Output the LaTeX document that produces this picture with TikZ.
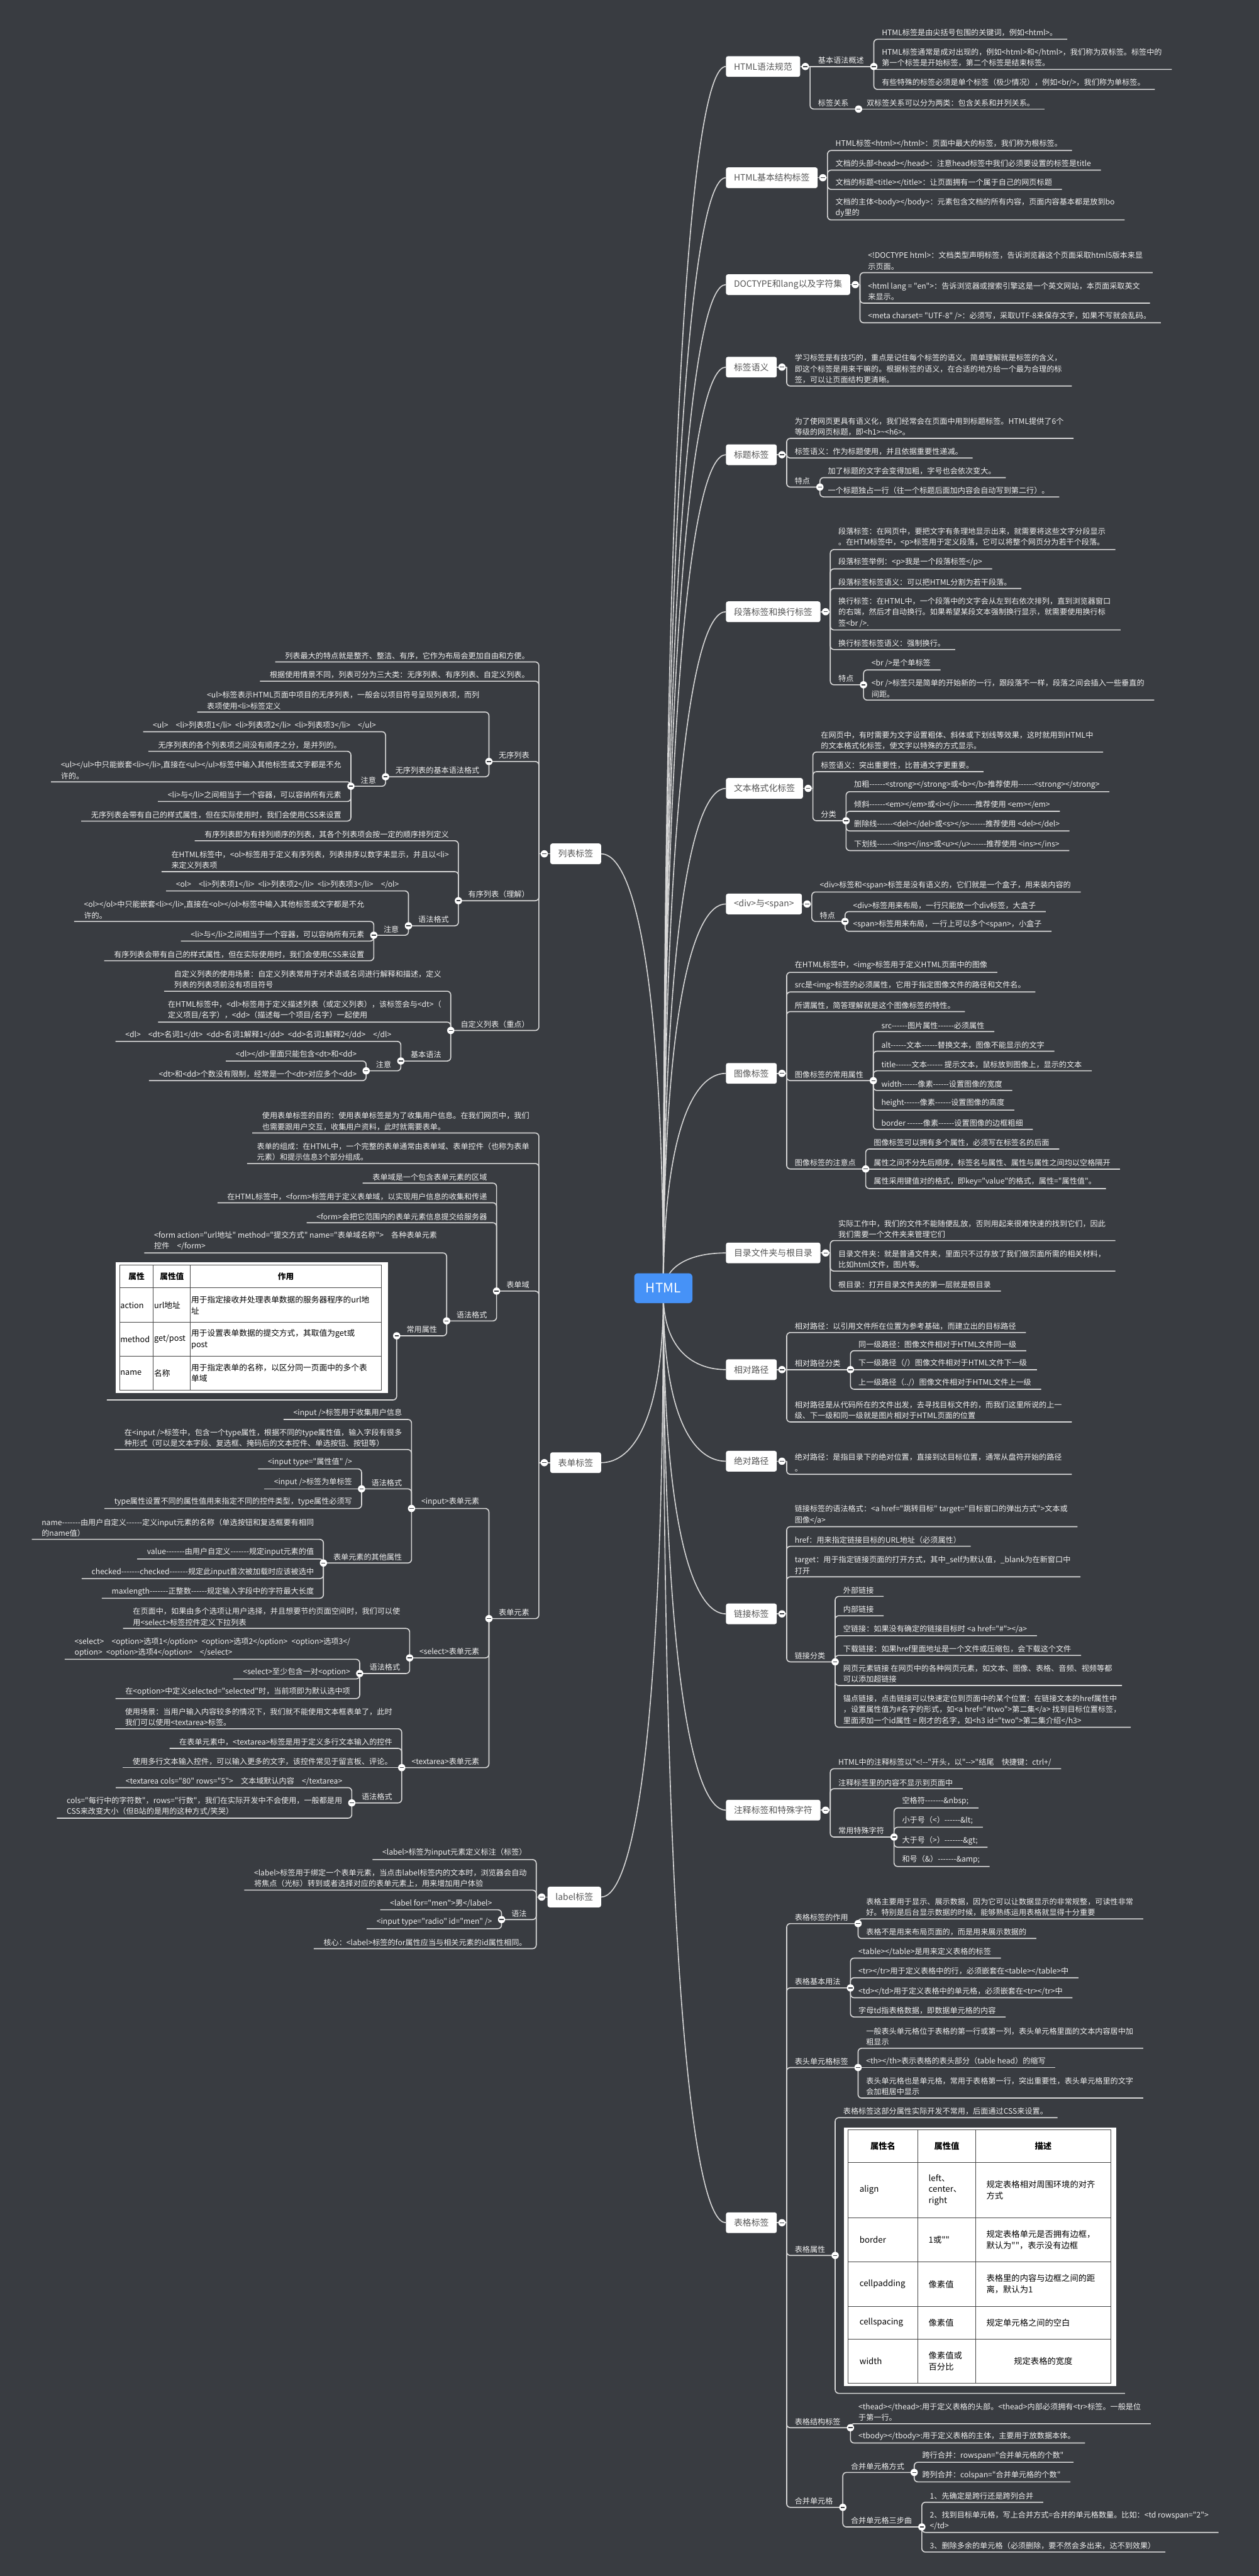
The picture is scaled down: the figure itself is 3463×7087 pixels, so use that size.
\documentclass[tikz,border=0pt]{standalone}
\usepackage{fontspec}
\setmainfont{Noto Sans CJK SC}[Ligatures=TeXOff]
\usetikzlibrary{calc}
\usetikzlibrary{positioning}

\definecolor{bgcol}{RGB}{57,60,65}
\definecolor{linecol}{RGB}{215,215,215}
\definecolor{leafcol}{RGB}{240,240,240}
\definecolor{topiccol}{RGB}{85,85,85}
\definecolor{rootcol}{RGB}{70,146,247}
\definecolor{gridcol}{RGB}{70,70,70}

\newcommand{\leaffont}{\fontsize{21}{30}\selectfont}
\newcommand{\topicfont}{\fontsize{24}{30}\selectfont}
\newcommand{\rootfont}{\fontsize{36}{40}\selectfont}
\newcommand{\ftabfont}{\fontsize{22}{30.5}\selectfont}
\newcommand{\ptabfont}{\fontsize{23}{31}\selectfont}

% main branches, right and left of the root
\newcommand{\rtopic}[3]{%
  \node[topic, anchor=west] (#1) at (1997,#2) {#3};
  \coordinate (#1o) at ([xshift=14pt]#1.east);
  \coordinate (#1h) at ([xshift=27pt]#1.east);
  \draw[link] (#1.east) -- (#1h);
  \draw[rootlink] (root) .. controls ($(root)!0.75!(root |- #1.west)$) and ($(#1.west)!0.5!(root |- #1.west)$) .. (#1.west);}
\newcommand{\ltopic}[3]{%
  \node[topic, anchor=east] (#1) at (1654,#2) {#3};
  \coordinate (#1o) at ([xshift=-16pt]#1.west);
  \coordinate (#1h) at ([xshift=-31pt]#1.west);
  \draw[link] (#1.west) -- (#1h);
  \draw[rootlink] (root) .. controls ($(root)!0.75!(root |- #1.east)$) and ($(#1.east)!0.5!(root |- #1.east)$) .. (#1.east);}
% underlined sub-items
\newcommand{\rkid}[4]{%
  \node[leaf, anchor=south west] (#2) at ($(#1 |- 0,#3)+(22,0)$) {#4};
  \draw[link] (#1) |- ([xshift=27pt]#2.south east);
  \coordinate (#2h) at ([xshift=27pt]#2.south east);}
\newcommand{\lkid}[4]{%
  \node[leaf, anchor=south east] (#2) at ($(#1 |- 0,#3)+(-26,0)$) {#4};
  \draw[link] (#1) |- ([xshift=-27pt]#2.south west);
  \coordinate (#2h) at ([xshift=-27pt]#2.south west);}
\newcommand{\rnext}[3]{%
  \node[leaf, anchor=south west] (#2) at ([xshift=22pt]#1) {#3};
  \draw[link] (#1) -- ([xshift=27pt]#2.south east);
  \coordinate (#2h) at ([xshift=27pt]#2.south east);}
\newcommand{\lnext}[3]{%
  \node[leaf, anchor=south east] (#2) at ([xshift=-26pt]#1) {#3};
  \draw[link] (#1) -- ([xshift=-27pt]#2.south west);
  \coordinate (#2h) at ([xshift=-27pt]#2.south west);}

\begin{document}
\begin{tikzpicture}[x=1pt, y=-1pt]
	\tikzstyle{leaf}=[text=leafcol, font=\leaffont, align=left, inner xsep=0pt, inner ysep=7pt]
	\tikzstyle{topic}=[fill=white, text=topiccol, font=\topicfont, rounded corners=6pt,
	                   inner xsep=22pt, minimum height=57pt]
	\tikzstyle{link}=[draw=linecol, line width=2.8pt, rounded corners=10pt]
	\tikzstyle{rootlink}=[draw=linecol, line width=2.8pt]
	\tikzstyle{rootnode}=[fill=rootcol, text=white, font=\rootfont, rounded corners=10pt,
	                      minimum width=160pt, minimum height=82pt]
	\tikzstyle{tabbox}=[fill=white, inner sep=0pt]
	\tikzstyle{tabline}=[draw=gridcol, line width=1.6pt]
	\tikzstyle{fcell}=[text=black, font=\ftabfont, align=left, inner sep=0pt]
	\tikzstyle{pcell}=[text=black, font=\ptabfont, align=left, inner sep=0pt]

	\useasboundingbox (0,0) rectangle (3463,7087);
	\fill[bgcol] (0,0) rectangle (3463,7087);
	\coordinate (root) at (1825,3560);

	% ---------- right side ----------
	\rtopic{r1}{183}{HTML语法规范}
	\rnext{r1h}{r1a}{基本语法概述}
	\rkid{r1ah}{r1a1}{108}{HTML标签是由尖括号包围的关键词，例如<html>。}
	\rkid{r1ah}{r1a2}{191}{HTML标签通常是成对出现的，例如<html>和</html>，我们称为双标签。标签中的\\第一个标签是开始标签，第二个标签是结束标签。}
	\rkid{r1ah}{r1a3}{246}{有些特殊的标签必须是单个标签（极少情况），例如<br/>，我们称为单标签。}
	\rkid{r1h}{r1b}{300}{标签关系}
	\rnext{r1bh}{r1b1}{双标签关系可以分为两类：包含关系和并列关系。}

	\rtopic{r2}{489}{HTML基本结构标签}
	\rkid{r2h}{r2a}{414}{HTML标签<html></html>：页面中最大的标签，我们称为根标签。}
	\rkid{r2h}{r2b}{468}{文档的头部<head></head>：注意head标签中我们必须要设置的标签是title}
	\rkid{r2h}{r2c}{521}{文档的标题<title></title>：让页面拥有一个属于自己的网页标题}
	\rkid{r2h}{r2d}{605}{文档的主体<body></body>：元素包含文档的所有内容，页面内容基本都是放到bo\\dy里的}

	\rtopic{r3}{783}{DOCTYPE和lang以及字符集}
	\rkid{r3h}{r3a}{750}{<!DOCTYPE html>：文档类型声明标签，告诉浏览器这个页面采取html5版本来显\\示页面。}
	\rkid{r3h}{r3b}{834}{<html lang = "en">：告诉浏览器或搜索引擎这是一个英文网站，本页面采取英文\\来显示。}
	\rkid{r3h}{r3c}{888}{<meta charset= "UTF-8" />：必须写，采取UTF-8来保存文字，如果不写就会乱码。}

	\rtopic{r4}{1010}{标签语义}
	\rkid{r4h}{r4a}{1062}{学习标签是有技巧的，重点是记住每个标签的语义。简单理解就是标签的含义，\\即这个标签是用来干嘛的。根据标签的语义，在合适的地方给一个最为合理的标\\签，可以让页面结构更清晰。}

	\rtopic{r5}{1251}{标题标签}
	\rkid{r5h}{r5a}{1206}{为了使网页更具有语义化，我们经常会在页面中用到标题标签。HTML提供了6个\\等级的网页标题，即<h1>\textasciitilde<h6>。}
	\rkid{r5h}{r5b}{1260}{标签语义：作为标题使用，并且依据重要性递减。}
	\rkid{r5h}{r5c}{1340}{特点}
	\rkid{r5ch}{r5c1}{1314}{加了标题的文字会变得加粗，字号也会依次变大。}
	\rkid{r5ch}{r5c2}{1367}{一个标题独占一行（往一个标题后面加内容会自动写到第二行）。}

	\rtopic{r6}{1683}{段落标签和换行标签}
	\rkid{r6h}{r6a}{1512}{段落标签：在网页中，要把文字有条理地显示出来，就需要将这些文字分段显示\\。在HTM标签中，<p>标签用于定义段落，它可以将整个网页分为若干个段落。}
	\rkid{r6h}{r6b}{1565}{段落标签举例：<p>我是一个段落标签</p>}
	\rkid{r6h}{r6c}{1619}{段落标签标签语义：可以把HTML分割为若干段落。}
	\rkid{r6h}{r6d}{1733}{换行标签：在HTML中，一个段落中的文字会从左到右依次排列，直到浏览器窗口\\的右端，然后才自动换行。如果希望某段文本强制换行显示，就需要使用换行标\\签<br />.}
	\rkid{r6h}{r6e}{1787}{换行标签标签语义：强制换行。}
	\rkid{r6h}{r6f}{1884}{特点}
	\rkid{r6fh}{r6f1}{1843}{<br />是个单标签}
	\rkid{r6fh}{r6f2}{1926}{<br />标签只是简单的开始新的一行，跟段落不一样，段落之间会插入一些垂直的\\间距。}

	\rtopic{r7}{2169}{文本格式化标签}
	\rkid{r7h}{r7a}{2069}{在网页中，有时需要为文字设置粗体、斜体或下划线等效果，这时就用到HTML中\\的文本格式化标签，使文字以特殊的方式显示。}
	\rkid{r7h}{r7b}{2123}{标签语义：突出重要性，比普通文字更重要。}
	\rkid{r7h}{r7c}{2258}{分类}
	\rkid{r7ch}{r7c1}{2178}{加粗------<strong></strong>或<b></b>推荐使用------<strong></strong>}
	\rkid{r7ch}{r7c2}{2232}{倾斜------<em></em>或<i></i>------推荐使用 <em></em>}
	\rkid{r7ch}{r7c3}{2286}{删除线------<del></del>或<s></s>------推荐使用 <del></del>}
	\rkid{r7ch}{r7c4}{2340}{下划线------<ins></ins>或<u></u>------推荐使用 <ins></ins>}

	\rtopic{r8}{2487}{<div>与<span>}
	\rkid{r8h}{r8a}{2454}{<div>标签和<span>标签是没有语义的，它们就是一个盒子，用来装内容的}
	\rkid{r8h}{r8b}{2535}{特点}
	\rkid{r8bh}{r8b1}{2508}{<div>标签用来布局，一行只能放一个div标签，大盒子}
	\rkid{r8bh}{r8b2}{2562}{<span>标签用来布局，一行上可以多个<span>，小盒子}

	\rtopic{r9}{2953}{图像标签}
	\rkid{r9h}{r9a}{2675}{在HTML标签中，<img>标签用于定义HTML页面中的图像}
	\rkid{r9h}{r9b}{2729}{src是<img>标签的必须属性，它用于指定图像文件的路径和文件名。}
	\rkid{r9h}{r9c}{2783}{所谓属性，简答理解就是这个图像标签的特性。}
	\rkid{r9h}{r9d}{2973}{图像标签的常用属性}
	\rkid{r9dh}{r9d1}{2838}{src------图片属性------必须属性}
	\rkid{r9dh}{r9d2}{2892}{alt------文本------替换文本，图像不能显示的文字}
	\rkid{r9dh}{r9d3}{2946}{title------文本------ 提示文本，鼠标放到图像上，显示的文本}
	\rkid{r9dh}{r9d4}{3000}{width------像素------设置图像的宽度}
	\rkid{r9dh}{r9d5}{3054}{height------像素------设置图像的高度}
	\rkid{r9dh}{r9d6}{3107}{border ------像素------设置图像的边框粗细}
	\rkid{r9h}{r9e}{3216}{图像标签的注意点}
	\rkid{r9eh}{r9e1}{3161}{图像标签可以拥有多个属性，必须写在标签名的后面}
	\rnext{r9eh}{r9e2}{属性之间不分先后顺序，标签名与属性、属性与属性之间均以空格隔开}
	\rkid{r9eh}{r9e3}{3270}{属性采用键值对的格式，即key="value"的格式，属性="属性值"。}

	\rtopic{r10}{3447}{目录文件夹与根目录}
	\rkid{r10h}{r10a}{3413}{实际工作中，我们的文件不能随便乱放，否则用起来很难快速的找到它们，因此\\我们需要一个文件夹来管理它们}
	\rkid{r10h}{r10b}{3497}{目录文件夹：就是普通文件夹，里面只不过存放了我们做页面所需的相关材料，\\比如html文件，图片等。}
	\rkid{r10h}{r10c}{3552}{根目录：打开目录文件夹的第一层就是根目录}

	\rtopic{r11}{3768}{相对路径}
	\rkid{r11h}{r11a}{3666}{相对路径：以引用文件所在位置为参考基础，而建立出的目标路径}
	\rnext{r11h}{r11b}{相对路径分类}
	\rkid{r11bh}{r11b1}{3716}{同一级路径：图像文件相对于HTML文件同一级}
	\rnext{r11bh}{r11b2}{下一级路径（/）图像文件相对于HTML文件下一级}
	\rkid{r11bh}{r11b3}{3822}{上一级路径（../）图像文件相对于HTML文件上一级}
	\rkid{r11h}{r11c}{3912}{相对路径是从代码所在的文件出发，去寻找目标文件的，而我们这里所说的上一\\级、下一级和同一级就是图片相对于HTML页面的位置}

	\rtopic{r12}{4020}{绝对路径}
	\rkid{r12h}{r12a}{4056}{绝对路径：是指目录下的绝对位置，直接到达目标位置，通常从盘符开始的路径\\。}

	\rtopic{r13}{4440}{链接标签}
	\rkid{r13h}{r13a}{4200}{链接标签的语法格式：<a href="跳转目标" target="目标窗口的弹出方式">文本或\\图像</a>}
	\rkid{r13h}{r13b}{4254}{href：用来指定链接目标的URL地址（必须属性）}
	\rkid{r13h}{r13c}{4338}{target：用于指定链接页面的打开方式，其中\_self为默认值，\_blank为在新窗口中\\打开}
	\rkid{r13h}{r13d}{4572}{链接分类}
	\rkid{r13dh}{r13d1}{4392}{外部链接}
	\rkid{r13dh}{r13d2}{4445}{内部链接}
	\rkid{r13dh}{r13d3}{4500}{空链接：如果没有确定的链接目标时 <a href="\#"></a>}
	\rkid{r13dh}{r13d4}{4554}{下载链接：如果href里面地址是一个文件或压缩包，会下载这个文件}
	\rkid{r13dh}{r13d5}{4637}{网页元素链接 在网页中的各种网页元素，如文本、图像、表格、音频、视频等都\\可以添加超链接}
	\rkid{r13dh}{r13d6}{4752}{锚点链接，点击链接可以快速定位到页面中的某个位置：在链接文本的href属性中\\，设置属性值为\#名字的形式，如<a href="\#two">第二集</a> 找到目标位置标签，\\里面添加一个id属性 = 刚才的名字，如<h3 id="two">第二集介绍</h3>}

	\rtopic{r14}{4980}{注释标签和特殊字符}
	\rkid{r14h}{r14a}{4866}{HTML中的注释标签以"<!--"开头，以"-->"结尾\quad 快捷键：ctrl+/}
	\rkid{r14h}{r14b}{4921}{注释标签里的内容不显示到页面中}
	\rkid{r14h}{r14c}{5054}{常用特殊字符}
	\rkid{r14ch}{r14c1}{4974}{空格符-------\&nbsp;}
	\rkid{r14ch}{r14c2}{5027}{小于号（<）------\&lt;}
	\rkid{r14ch}{r14c3}{5082}{大于号（>）-------\&gt;}
	\rkid{r14ch}{r14c4}{5135}{和号（\&）-------\&amp;}

	\rtopic{r15}{6115}{表格标签}
	\rkid{r15h}{r15a}{5292}{表格标签的作用}
	\rkid{r15ah}{r15a1}{5279}{表格主要用于显示、展示数据，因为它可以让数据显示的非常规整，可读性非常\\好。特别是后台显示数据的时候，能够熟练运用表格就显得十分重要}
	\rkid{r15ah}{r15a2}{5333}{表格不是用来布局页面的，而是用来展示数据的}
	\rkid{r15h}{r15b}{5469}{表格基本用法}
	\rkid{r15bh}{r15b1}{5387}{<table></table>是用来定义表格的标签}
	\rkid{r15bh}{r15b2}{5441}{<tr></tr>用于定义表格中的行，必须嵌套在<table></table>中}
	\rkid{r15bh}{r15b3}{5496}{<td></td>用于定义表格中的单元格，必须嵌套在<tr></tr>中}
	\rkid{r15bh}{r15b4}{5549}{字母td指表格数据，即数据单元格的内容}
	\rkid{r15h}{r15c}{5688}{表头单元格标签}
	\rkid{r15ch}{r15c1}{5635}{一般表头单元格位于表格的第一行或第一列，表头单元格里面的文本内容居中加\\粗显示}
	\rnext{r15ch}{r15c2}{<th></th>表示表格的表头部分（table head）的缩写}
	\rkid{r15ch}{r15c3}{5772}{表头单元格也是单元格，常用于表格第一行，突出重要性，表头单元格里的文字\\会加粗居中显示}
	\rkid{r15h}{r15d}{6205}{表格属性}
	\rkid{r15dh}{r15d1}{5826}{表格标签这部分属性实际开发不常用，后面通过CSS来设置。}
	\node[tabbox, minimum width=749pt, minimum height=712pt, anchor=north west] (ptab) at ($(r15dh |- 0,5853)+(24,0)$) {};
	\draw[link] (r15dh) |- ([xshift=24pt,yshift=-19pt]ptab.south east);
	\begin{scope}[shift={(ptab.north west)}]
		\draw[tabline] (12,6) rectangle (734,704);
		\foreach \gx in {203,363} {\draw[tabline] (\gx,6) -- (\gx,704);}
		\foreach \gy in {96,248,370,492,582} {\draw[tabline] (12,\gy) -- (734,\gy);}
		\node[pcell, font=\ptabfont\bfseries] (ph1) at (107.5,51) {属性名};
		\node[pcell, font=\ptabfont\bfseries] (ph2) at (283,51) {属性值};
		\node[pcell, font=\ptabfont\bfseries] (ph3) at (548.5,51) {描述};
		\node[pcell, anchor=west] (pa1) at (43,172) {align};
		\node[pcell, anchor=west] (pa2) at (233,172) {left、\\center、\\right};
		\node[pcell, anchor=west] (pa3) at (392,172) {规定表格相对周围环境的对齐\\方式};
		\node[pcell, anchor=west] (pb1) at (43,309) {border};
		\node[pcell, anchor=west] (pb2) at (233,309) {1或""};
		\node[pcell, anchor=west] (pb3) at (392,309) {规定表格单元是否拥有边框，\\默认为""，表示没有边框};
		\node[pcell, anchor=west] (pc1) at (43,431) {cellpadding};
		\node[pcell, anchor=west] (pc2) at (233,431) {像素值};
		\node[pcell, anchor=west] (pc3) at (392,431) {表格里的内容与边框之间的距\\离，默认为1};
		\node[pcell, anchor=west] (pd1) at (43,537) {cellspacing};
		\node[pcell, anchor=west] (pd2) at (233,537) {像素值};
		\node[pcell, anchor=west] (pd3) at (392,537) {规定单元格之间的空白};
		\node[pcell, anchor=west] (pe1) at (43,643) {width};
		\node[pcell, anchor=west] (pe2) at (233,643) {像素值或\\百分比};
		\node[pcell] (pe3) at (548.5,643) {规定表格的宽度};
	\end{scope}
	\rkid{r15h}{r15e}{6679}{表格结构标签}
	\rkid{r15eh}{r15e1}{6668}{<thead></thead>:用于定义表格的头部。<thead>内部必须拥有<tr>标签。一般是位\\于第一行。}
	\rkid{r15eh}{r15e2}{6721}{<tbody></tbody>:用于定义表格的主体，主要用于放数据本体。}
	\rkid{r15h}{r15f}{6898}{合并单元格}
	\rkid{r15fh}{r15f1}{6802}{合并单元格方式}
	\rkid{r15f1h}{r15f1a}{6774}{跨行合并：rowspan="合并单元格的个数"}
	\rkid{r15f1h}{r15f1b}{6828}{跨列合并：colspan="合并单元格的个数"}
	\rkid{r15fh}{r15f2}{6952}{合并单元格三步曲}
	\rkid{r15f2h}{r15f2a}{6884}{1、先确定是跨行还是跨列合并}
	\rkid{r15f2h}{r15f2b}{6967}{2、找到目标单元格，写上合并方式=合并的单元格数量。比如：<td rowspan="2">\\</td>}
	\rkid{r15f2h}{r15f2c}{7021}{3、删除多余的单元格（必须删除，要不然会多出来，达不到效果）}

	% ---------- left side ----------
	\ltopic{l1}{2349}{列表标签}
	\lkid{l1h}{l1a}{1821}{列表最大的特点就是整齐、整洁、有序，它作为布局会更加自由和方便。}
	\lkid{l1h}{l1b}{1874}{根据使用情景不同，列表可分为三大类：无序列表、有序列表、自定义列表。}
	\lkid{l1h}{l1c}{2095}{无序列表}
	\lkid{l1ch}{l1c1}{1959}{<ul>标签表示HTML页面中项目的无序列表，一般会以项目符号呈现列表项，而列\\表项使用<li>标签定义}
	\lkid{l1ch}{l1c2}{2137}{无序列表的基本语法格式}
	\lkid{l1c2h}{l1c2a}{2013}{<ul>\quad <li>列表项1</li>\enspace <li>列表项2</li>\enspace <li>列表项3</li>\quad </ul>}
	\lkid{l1c2h}{l1c2b}{2163}{注意}
	\lkid{l1c2bh}{l1c2b1}{2067}{无序列表的各个列表项之间没有顺序之分，是并列的。}
	\lkid{l1c2bh}{l1c2b2}{2151}{<ul></ul>中只能嵌套<li></li>,直接在<ul></ul>标签中输入其他标签或文字都是不允\\许的。}
	\lkid{l1c2bh}{l1c2b3}{2205}{<li>与</li>之间相当于一个容器，可以容纳所有元素}
	\lkid{l1c2bh}{l1c2b4}{2259}{无序列表会带有自己的样式属性，但在实际使用时，我们会使用CSS来设置}
	\lkid{l1h}{l1d}{2478}{有序列表（理解）}
	\lkid{l1dh}{l1d1}{2313}{有序列表即为有排列顺序的列表，其各个列表项会按一定的顺序排列定义}
	\lkid{l1dh}{l1d2}{2398}{在HTML标签中，<ol>标签用于定义有序列表，列表排序以数字来显示，并且以<li>\\来定义列表项}
	\lkid{l1dh}{l1d3}{2547}{语法格式}
	\lkid{l1d3h}{l1d3a}{2451}{<ol>\quad <li>列表项1</li>\enspace <li>列表项2</li>\enspace <li>列表项3</li>\quad </ol>}
	\lkid{l1d3h}{l1d3b}{2573}{注意}
	\lkid{l1d3bh}{l1d3b1}{2535}{<ol></ol>中只能嵌套<li></li>,直接在<ol></ol>标签中输入其他标签或文字都是不允\\许的。}
	\lkid{l1d3bh}{l1d3b2}{2589}{<li>与</li>之间相当于一个容器，可以容纳所有元素}
	\lkid{l1d3bh}{l1d3b3}{2643}{有序列表会带有自己的样式属性，但在实际使用时，我们会使用CSS来设置}
	\lkid{l1h}{l1e}{2835}{自定义列表（重点）}
	\lkid{l1eh}{l1e1}{2727}{自定义列表的使用场景：自定义列表常用于对术语或名词进行解释和描述，定义\\列表的列表项前没有项目符号}
	\lkid{l1eh}{l1e2}{2812}{在HTML标签中，<dl>标签用于定义描述列表（或定义列表），该标签会与<dt>（\\定义项目/名字），<dd>（描述每一个项目/名字）一起使用}
	\lkid{l1eh}{l1e3}{2919}{基本语法}
	\lkid{l1e3h}{l1e3a}{2865}{<dl>\quad <dt>名词1</dt>\enspace <dd>名词1解释1</dd>\enspace <dd>名词1解释2</dd>\quad </dl>}
	\lkid{l1e3h}{l1e3b}{2946}{注意}
	\lkid{l1e3bh}{l1e3b1}{2919}{<dl></dl>里面只能包含<dt>和<dd>}
	\lkid{l1e3bh}{l1e3b2}{2973}{<dt>和<dd>个数没有限制，经常是一个<dt>对应多个<dd>}

	\ltopic{l2}{4024}{表单标签}
	\lkid{l2h}{l2a}{3117}{使用表单标签的目的：使用表单标签是为了收集用户信息。在我们网页中，我们\\也需要跟用户交互，收集用户资料，此时就需要表单。}
	\lkid{l2h}{l2b}{3201}{表单的组成：在HTML中，一个完整的表单通常由表单域、表单控件（也称为表单\\元素）和提示信息3个部分组成。}
	\lkid{l2h}{l2c}{3552}{表单域}
	\lkid{l2ch}{l2c1}{3255}{表单域是一个包含表单元素的区域}
	\lkid{l2ch}{l2c2}{3309}{在HTML标签中，<form>标签用于定义表单域，以实现用户信息的收集和传递}
	\lkid{l2ch}{l2c3}{3364}{<form>会把它范围内的表单元素信息提交给服务器}
	\lkid{l2ch}{l2c4}{3634}{语法格式}
	\lkid{l2c4h}{l2c4a}{3447}{<form action="url地址" method="提交方式" name="表单域名称">\quad 各种表单元素\\控件\quad </form>}
	\lkid{l2c4h}{l2c4b}{3675}{常用属性}
	\node[tabbox, minimum width=750pt, minimum height=360pt, anchor=north east] (ftab) at ($(l2c4bh |- 0,3473)+(-23,0)$) {};
	\draw[link] (l2c4bh) |- ([xshift=-24pt,yshift=-18pt]ftab.south west);
	\begin{scope}[shift={(ftab.north west)}]
		\draw[tabline] (11,8) rectangle (731,351);
		\foreach \gx in {104,206} {\draw[tabline] (\gx,8) -- (\gx,351);}
		\foreach \gy in {70,165,258} {\draw[tabline] (11,\gy) -- (731,\gy);}
		\node[fcell, font=\ftabfont\bfseries] (fh1) at (57.5,39) {属性};
		\node[fcell, font=\ftabfont\bfseries] (fh2) at (155,39) {属性值};
		\node[fcell, font=\ftabfont\bfseries] (fh3) at (468.5,39) {作用};
		\node[fcell, anchor=west] (fa1) at (13,117.5) {action};
		\node[fcell, anchor=west] (fa2) at (106,117.5) {url地址};
		\node[fcell, anchor=west] (fa3) at (208,117.5) {用于指定接收并处理表单数据的服务器程序的url地\\址};
		\node[fcell, anchor=west] (fb1) at (13,211.5) {method};
		\node[fcell, anchor=west] (fb2) at (106,211.5) {get/post};
		\node[fcell, anchor=west] (fb3) at (208,211.5) {用于设置表单数据的提交方式，其取值为get或\\post};
		\node[fcell, anchor=west] (fc1) at (13,304.5) {name};
		\node[fcell, anchor=west] (fc2) at (106,304.5) {名称};
		\node[fcell, anchor=west] (fc3) at (208,304.5) {用于指定表单的名称，以区分同一页面中的多个表\\单域};
	\end{scope}
	\lkid{l2h}{l2d}{4453}{表单元素}
	\lkid{l2dh}{l2d1}{4150}{<input>表单元素}
	\lkid{l2d1h}{l2d1a}{3905}{<input />标签用于收集用户信息}
	\lkid{l2d1h}{l2d1b}{3988}{在<input />标签中，包含一个type属性，根据不同的type属性值，输入字段有很多\\种形式（可以是文本字段、复选框、掩码后的文本控件、单选按钮、按钮等）}
	\lkid{l2d1h}{l2d1c}{4096}{语法格式}
	\lkid{l2d1ch}{l2d1c1}{4041}{<input type="属性值" />}
	\lnext{l2d1ch}{l2d1c2}{<input />标签为单标签}
	\lkid{l2d1ch}{l2d1c3}{4150}{type属性设置不同的属性值用来指定不同的控件类型，type属性必须写}
	\lkid{l2d1h}{l2d1d}{4300}{表单元素的其他属性}
	\lkid{l2d1dh}{l2d1d1}{4235}{name-------由用户自定义------定义input元素的名称（单选按钮和复选框要有相同\\的name值）}
	\lkid{l2d1dh}{l2d1d2}{4289}{value-------由用户自定义-------规定input元素的值}
	\lkid{l2d1dh}{l2d1d3}{4343}{checked-------checked-------规定此input首次被加载时应该被选中}
	\lkid{l2d1dh}{l2d1d4}{4397}{maxlength-------正整数------规定输入字段中的字符最大长度}
	\lkid{l2dh}{l2d2}{4561}{<select>表单元素}
	\lkid{l2d2h}{l2d2a}{4480}{在页面中，如果由多个选项让用户选择，并且想要节约页面空间时，我们可以使\\用<select>标签控件定义下拉列表}
	\lkid{l2d2h}{l2d2b}{4604}{语法格式}
	\lkid{l2d2bh}{l2d2b1}{4565}{<select>\quad <option>选项1</option>\enspace <option>选项2</option>\enspace <option>选项3</\\option>\enspace <option>选项4</option>\quad </select>}
	\lkid{l2d2bh}{l2d2b2}{4619}{<select>至少包含一对<option>}
	\lkid{l2d2bh}{l2d2b3}{4673}{在<option>中定义selected="selected"时，当前项即为默认选中项}
	\lkid{l2dh}{l2d3}{4863}{<textarea>表单元素}
	\lkid{l2d3h}{l2d3a}{4756}{使用场景：当用户输入内容较多的情况下，我们就不能使用文本框表单了，此时\\我们可以使用<textarea>标签。}
	\lkid{l2d3h}{l2d3b}{4810}{在表单元素中，<textarea>标签是用于定义多行文本输入的控件}
	\lnext{l2d3h}{l2d3c}{使用多行文本输入控件，可以输入更多的文字，该控件常见于留言板、评论。}
	\lkid{l2d3h}{l2d3d}{4960}{语法格式}
	\lkid{l2d3dh}{l2d3d1}{4918}{<textarea cols="80" rows="5">\quad 文本域默认内容\quad </textarea>}
	\lkid{l2d3dh}{l2d3d2}{5002}{cols="每行中的字符数"，rows="行数"，我们在实际开发中不会使用，一般都是用\\CSS来改变大小（但B站的是用的这种方式/笑哭）}

	\ltopic{l3}{5219}{label标签}
	\lkid{l3h}{l3a}{5116}{<label>标签为input元素定义标注（标签）}
	\lkid{l3h}{l3b}{5200}{<label>标签用于绑定一个表单元素，当点击label标签内的文本时，浏览器会自动\\将焦点（光标）转到或者选择对应的表单元素上，用来增加用户体验}
	\lkid{l3h}{l3c}{5281}{语法}
	\lkid{l3ch}{l3c1}{5254}{<label for="men">男</label>}
	\lkid{l3ch}{l3c2}{5306}{<input type="radio" id="men" />}
	\lkid{l3h}{l3d}{5361}{核心：<label>标签的for属性应当与相关元素的id属性相同。}

	% collapse dots
	\foreach \c in {r1o,r2o,r3o,r4o,r5o,r6o,r7o,r8o,r9o,r10o,r11o,r12o,r13o,r14o,r15o,
	  r1ah,r1bh,r5ch,r6fh,r7ch,r8bh,r9dh,r9eh,r11bh,r13dh,r14ch,
	  r15ah,r15bh,r15ch,r15dh,r15eh,r15fh,r15f1h,r15f2h,
	  l1o,l2o,l3o,l1ch,l1c2h,l1c2bh,l1dh,l1d3h,l1d3bh,l1eh,l1e3h,l1e3bh,
	  l2ch,l2c4h,l2c4bh,l2dh,l2d1h,l2d1ch,l2d1dh,l2d2h,l2d2bh,l2d3h,l2d3dh,l3ch}
	{\fill[white] (\c) circle (10pt);
	 \draw[bgcol, line width=2.6pt] ([xshift=-5.5pt]\c) -- ([xshift=5.5pt]\c);}

	\node[rootnode] (html) at (1825,3544) {HTML};
\end{tikzpicture}
\end{document}
